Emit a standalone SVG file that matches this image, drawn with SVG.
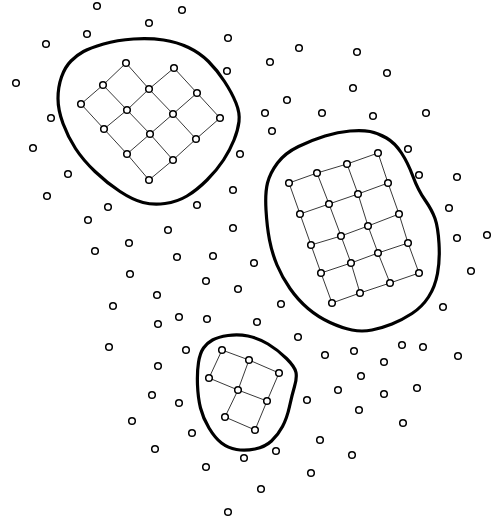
<svg xmlns="http://www.w3.org/2000/svg" width="492" height="522" viewBox="0 0 492 522">
<style>
.bg{fill:#fff}
.blob{fill:none;stroke:#000;stroke-width:3.2;stroke-linejoin:round}
.lat{fill:none;stroke:#222;stroke-width:0.9}
circle{fill:#fff;stroke:#000;stroke-width:1.5}
</style>
<rect class="bg" x="0" y="0" width="492" height="522"/>
<g id="connectors">
<path class="blob" d="M83.5,51.5 Q90,48 103.5,44 Q117,40 133.5,39 Q150,38 163.5,40 Q177,42 188.5,47.5 Q200,53 208.5,61.5 Q217,70 224.5,81.5 Q232,93 236,103 Q240,113 239,121.5 Q238,130 234,140 Q230,150 223.5,160 Q217,170 207,180 Q197,190 187,196 Q177,202 165,203.5 Q153,205 143,202.5 Q133,200 120,191.5 Q107,183 95,171.5 Q83,160 75.5,148.5 Q68,137 63,123.5 Q58,110 58,98.5 Q58,87 61.5,77 Q65,67 71,61 Q77,55 83.5,51.5 Z"/>
<path class="blob" d="M350,131 Q362,130 370,131.5 Q378,133 386.5,138 Q395,143 401.5,153 Q408,163 413,176.5 Q418,190 425,200 Q432,210 435,218.5 Q438,227 439,243.5 Q440,260 437.5,273.5 Q435,287 428.5,297 Q422,307 412,313.5 Q402,320 392,324 Q382,328 372,330 Q362,332 352,330 Q342,328 330,322.5 Q318,317 308,308.5 Q298,300 290,288.5 Q282,277 277,265 Q272,253 269.5,240 Q267,227 266,210 Q265,193 267.5,183 Q270,173 277.5,163 Q285,153 298.5,146.5 Q312,140 325,136 Q338,132 350,131 Z"/>
<path class="blob" d="M212.5,340 Q218,337 228,335.5 Q238,334 248,336 Q258,338 268,344 Q278,350 286.5,358.5 Q295,367 296,372.5 Q297,378 294.5,386.5 Q292,395 289.5,406.5 Q287,418 282.5,426.5 Q278,435 271.5,441 Q265,447 255,449 Q245,451 236.5,449.5 Q228,448 221.5,443 Q215,438 209,428 Q203,418 200.5,408 Q198,398 197.5,385 Q197,372 198.5,362.5 Q200,353 203.5,348 Q207,343 212.5,340 Z"/>
<g id="lattice1">
<polyline class="lat" points="174,68 197,93 220,118"/>
<polyline class="lat" points="126,63 149,89 173,114 196,139"/>
<polyline class="lat" points="103,85 127,110 150,134 173,160"/>
<polyline class="lat" points="81,104 104,129 127,154 149,180"/>
<polyline class="lat" points="126,63 103,85 81,104"/>
<polyline class="lat" points="174,68 149,89 127,110 104,129"/>
<polyline class="lat" points="197,93 173,114 150,134 127,154"/>
<polyline class="lat" points="220,118 196,139 173,160 149,180"/>
</g>
<g id="lattice2">
<polyline class="lat" points="289,183 317,173 347,164 378,153"/>
<polyline class="lat" points="300,214 329,204 358,194 388,183"/>
<polyline class="lat" points="311,245 341,236 368,226 399,214"/>
<polyline class="lat" points="321,273 351,263 378,253 408,243"/>
<polyline class="lat" points="332,303 360,293 390,283 419,273"/>
<polyline class="lat" points="289,183 300,214 311,245 321,273 332,303"/>
<polyline class="lat" points="317,173 329,204 341,236 351,263 360,293"/>
<polyline class="lat" points="347,164 358,194 368,226 378,253 390,283"/>
<polyline class="lat" points="378,153 388,183 399,214 408,243 419,273"/>
</g>
<g id="lattice3">
<polyline class="lat" points="222,350 249,360 279,373"/>
<polyline class="lat" points="209,378 238,390 267,401"/>
<polyline class="lat" points="225,417 255,430"/>
<polyline class="lat" points="222,350 209,378"/>
<polyline class="lat" points="249,360 238,390 225,417"/>
<polyline class="lat" points="279,373 267,401 255,430"/>
</g>
</g>
<g id="cluster1-nodes">
<circle cx="126" cy="63" r="3.3"/><circle cx="103" cy="85" r="3.3"/><circle cx="81" cy="104" r="3.3"/>
<circle cx="174" cy="68" r="3.3"/><circle cx="149" cy="89" r="3.3"/><circle cx="127" cy="110" r="3.3"/><circle cx="104" cy="129" r="3.3"/>
<circle cx="197" cy="93" r="3.3"/><circle cx="173" cy="114" r="3.3"/><circle cx="150" cy="134" r="3.3"/><circle cx="127" cy="154" r="3.3"/>
<circle cx="220" cy="118" r="3.3"/><circle cx="196" cy="139" r="3.3"/><circle cx="173" cy="160" r="3.3"/><circle cx="149" cy="180" r="3.3"/>
</g>
<g id="cluster2-nodes">
<circle cx="289" cy="183" r="3.3"/><circle cx="317" cy="173" r="3.3"/><circle cx="347" cy="164" r="3.3"/><circle cx="378" cy="153" r="3.3"/>
<circle cx="300" cy="214" r="3.3"/><circle cx="329" cy="204" r="3.3"/><circle cx="358" cy="194" r="3.3"/><circle cx="388" cy="183" r="3.3"/>
<circle cx="311" cy="245" r="3.3"/><circle cx="341" cy="236" r="3.3"/><circle cx="368" cy="226" r="3.3"/><circle cx="399" cy="214" r="3.3"/>
<circle cx="321" cy="273" r="3.3"/><circle cx="351" cy="263" r="3.3"/><circle cx="378" cy="253" r="3.3"/><circle cx="408" cy="243" r="3.3"/>
<circle cx="332" cy="303" r="3.3"/><circle cx="360" cy="293" r="3.3"/><circle cx="390" cy="283" r="3.3"/><circle cx="419" cy="273" r="3.3"/>
</g>
<g id="cluster3-nodes">
<circle cx="222" cy="350" r="3.3"/><circle cx="249" cy="360" r="3.3"/><circle cx="279" cy="373" r="3.3"/>
<circle cx="209" cy="378" r="3.3"/><circle cx="238" cy="390" r="3.3"/><circle cx="267" cy="401" r="3.3"/>
<circle cx="225" cy="417" r="3.3"/><circle cx="255" cy="430" r="3.3"/>
</g>
<g id="scattered-nodes">
<circle cx="97" cy="6" r="3.3"/><circle cx="182" cy="10" r="3.3"/><circle cx="149" cy="23" r="3.3"/><circle cx="87" cy="34" r="3.3"/>
<circle cx="46" cy="44" r="3.3"/><circle cx="228" cy="38" r="3.3"/><circle cx="227" cy="71" r="3.3"/><circle cx="16" cy="83" r="3.3"/>
<circle cx="51" cy="118" r="3.3"/><circle cx="33" cy="148" r="3.3"/><circle cx="240" cy="154" r="3.3"/><circle cx="68" cy="174" r="3.3"/>
<circle cx="233" cy="190" r="3.3"/><circle cx="47" cy="196" r="3.3"/><circle cx="197" cy="205" r="3.3"/><circle cx="108" cy="207" r="3.3"/>
<circle cx="299" cy="48" r="3.3"/><circle cx="357" cy="52" r="3.3"/><circle cx="270" cy="62" r="3.3"/><circle cx="387" cy="73" r="3.3"/>
<circle cx="353" cy="88" r="3.3"/><circle cx="287" cy="100" r="3.3"/><circle cx="265" cy="113" r="3.3"/><circle cx="322" cy="113" r="3.3"/>
<circle cx="373" cy="116" r="3.3"/><circle cx="426" cy="113" r="3.3"/><circle cx="272" cy="131" r="3.3"/><circle cx="408" cy="149" r="3.3"/>
<circle cx="419" cy="175" r="3.3"/><circle cx="457" cy="177" r="3.3"/><circle cx="449" cy="208" r="3.3"/>
<circle cx="88" cy="220" r="3.3"/><circle cx="168" cy="230" r="3.3"/><circle cx="233" cy="228" r="3.3"/><circle cx="129" cy="243" r="3.3"/>
<circle cx="95" cy="251" r="3.3"/><circle cx="177" cy="257" r="3.3"/><circle cx="213" cy="256" r="3.3"/><circle cx="254" cy="263" r="3.3"/>
<circle cx="130" cy="274" r="3.3"/><circle cx="206" cy="281" r="3.3"/><circle cx="238" cy="289" r="3.3"/><circle cx="157" cy="295" r="3.3"/>
<circle cx="113" cy="306" r="3.3"/><circle cx="179" cy="317" r="3.3"/><circle cx="207" cy="319" r="3.3"/><circle cx="158" cy="324" r="3.3"/>
<circle cx="109" cy="347" r="3.3"/><circle cx="186" cy="350" r="3.3"/><circle cx="158" cy="366" r="3.3"/>
<circle cx="457" cy="238" r="3.3"/><circle cx="487" cy="235" r="3.3"/><circle cx="471" cy="271" r="3.3"/><circle cx="281" cy="304" r="3.3"/>
<circle cx="257" cy="322" r="3.3"/><circle cx="443" cy="307" r="3.3"/><circle cx="298" cy="337" r="3.3"/><circle cx="325" cy="355" r="3.3"/>
<circle cx="354" cy="351" r="3.3"/><circle cx="402" cy="345" r="3.3"/><circle cx="423" cy="347" r="3.3"/><circle cx="458" cy="356" r="3.3"/>
<circle cx="384" cy="362" r="3.3"/>
<circle cx="152" cy="395" r="3.3"/><circle cx="179" cy="403" r="3.3"/><circle cx="132" cy="421" r="3.3"/><circle cx="307" cy="400" r="3.3"/>
<circle cx="338" cy="390" r="3.3"/><circle cx="192" cy="433" r="3.3"/><circle cx="155" cy="449" r="3.3"/><circle cx="320" cy="440" r="3.3"/>
<circle cx="244" cy="458" r="3.3"/><circle cx="276" cy="451" r="3.3"/><circle cx="206" cy="467" r="3.3"/><circle cx="311" cy="473" r="3.3"/>
<circle cx="261" cy="489" r="3.3"/><circle cx="228" cy="512" r="3.3"/>
<circle cx="361" cy="376" r="3.3"/><circle cx="384" cy="394" r="3.3"/><circle cx="417" cy="388" r="3.3"/><circle cx="359" cy="410" r="3.3"/>
<circle cx="403" cy="423" r="3.3"/><circle cx="352" cy="455" r="3.3"/>
</g>
</svg>
